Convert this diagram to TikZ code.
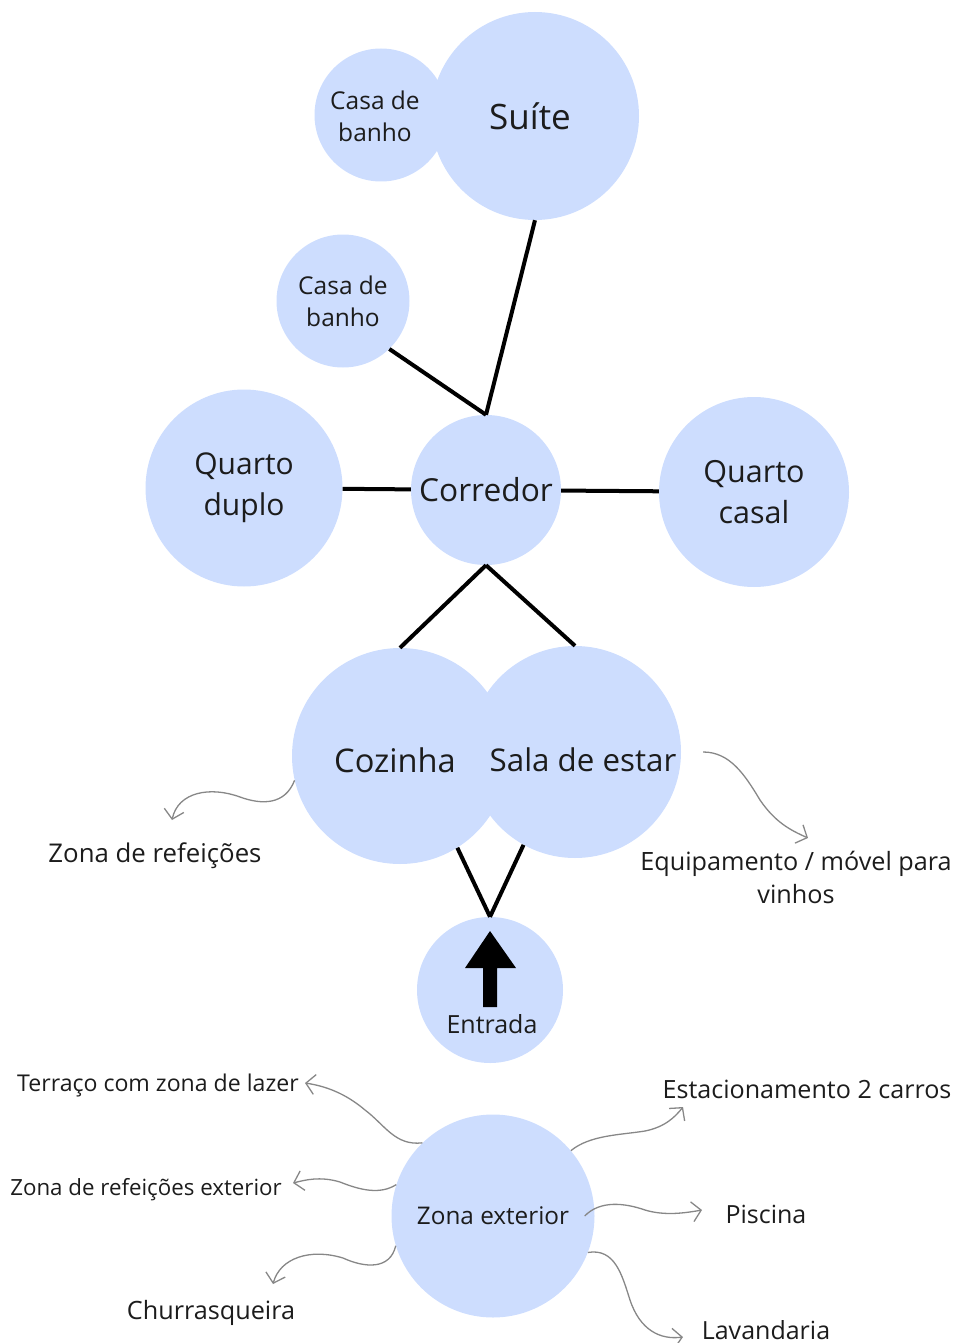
\documentclass[tikz,border=0pt]{standalone}
\usepackage{fontspec}
\setmainfont{Open Sans}
\definecolor{roomfill}{RGB}{205, 221, 254}
\definecolor{inkcol}{RGB}{28, 28, 28}
\definecolor{notecol}{RGB}{135, 135, 135}
\usetikzlibrary{arrows.meta}
\tikzset{
    room/.style={circle, fill=roomfill, inner sep=0pt, align=center,
        text=inkcol},
    bigtext/.style={font=\fontsize{30}{41}\selectfont, text=inkcol,
        align=center},
    smalltext/.style={font=\fontsize{25}{33}\selectfont, text=inkcol,
        align=center},
    wall/.style={line width=4pt, black},
    note/.style={line width=1.3pt, notecol,
        -{Straight Barb[length=9pt, width=20pt, line width=1.3pt]}},
}

\begin{document}
\begin{tikzpicture}[x=1pt, y=-1pt]
    \useasboundingbox (0, 0) rectangle (956, 1343);
    % rooms
    \node[room, minimum size=133] (banhoa) at (381, 115) {};
    \node[room, minimum size=208] (suite) at (535, 116) {};
    \node[room, minimum size=133, smalltext, font=\fontsize{24.5}{32}\selectfont]
        (banhob) at (343, 301) {Casa de\\banho};
    \node[room, minimum size=197, bigtext] (duplo) at (244, 488)
        {Quarto\\duplo};
    \node[room, minimum size=150, bigtext, font=\fontsize{31.7}{41}\selectfont]
        (corredor) at (486, 490) {Corredor};
    \node[room, minimum size=190, bigtext, font=\fontsize{30.5}{41}\selectfont]
        (casal) at (754, 492) {Quarto\\casal};
    \node[room, minimum size=216] (cozinha) at (400, 756) {};
    \node[room, minimum size=212] (sala) at (575, 752) {};
    \node[room, minimum size=146] (entrada) at (490, 990) {};
    \node[room, minimum size=203, smalltext, font=\fontsize{24.3}{33}\selectfont]
        (zext) at (493, 1216) {Zona exterior};

    \node[smalltext, font=\fontsize{24.5}{32}\selectfont] (banhoatxt)
        at (375, 116) {Casa de\\banho};
    \node[bigtext, font=\fontsize{35}{41}\selectfont] (suitetxt)
        at (530, 116) {Su\'{\i}te};
    \node[bigtext, font=\fontsize{32.6}{41}\selectfont] (cozinhatxt)
        at (395, 760) {Cozinha};
    \node[bigtext, font=\fontsize{31.3}{41}\selectfont] (salatxt)
        at (583, 760) {Sala de estar};

    % block arrow of the entrance
    \fill[black] (490, 931) -- (516, 968) -- (497, 968) -- (497, 1007)
        -- (483, 1007) -- (483, 968) -- (465, 968) -- cycle;
    \node[smalltext] (entradatxt) at (492, 1024) {Entrada};

    % links
    \draw[wall] (suite.south) -- (corredor.north);
    \draw[wall] (banhob.-46) -- (corredor.north);
    \draw[wall] (duplo) -- (corredor);
    \draw[wall] (corredor) -- (casal);
    \draw[wall] (corredor.south) -- (cozinha.north);
    \draw[wall] (corredor.south) -- (sala.north);
    \draw[wall] (cozinha.-58) -- (entrada.north);
    \draw[wall] (sala.-119) -- (entrada.north);

    % notes
    \node[smalltext, font=\fontsize{25.8}{33}\selectfont] (refeicoes)
        at (155, 856) {Zona de refei\c{c}\~oes};
    \node[smalltext, font=\fontsize{25.2}{33}\selectfont] (equip)
        at (796, 877) {Equipamento / m\'ovel para\\vinhos};
    \node[smalltext, font=\fontsize{23.1}{33}\selectfont] (terraco)
        at (158, 1085) {Terra\c{c}o com zona de lazer};
    \node[smalltext, font=\fontsize{25.1}{33}\selectfont] (estac)
        at (807, 1089) {Estacionamento 2 carros};
    \node[smalltext, font=\fontsize{22.3}{33}\selectfont] (refext)
        at (146, 1190) {Zona de refei\c{c}\~oes exterior};
    \node[smalltext] (piscina) at (766, 1214) {Piscina};
    \node[smalltext, font=\fontsize{25.2}{33}\selectfont] (churras)
        at (211, 1313) {Churrasqueira};
    \node[smalltext] (lavand) at (766, 1330) {Lavandaria};

    \coordinate (refeicoestip) at (172, 820);
    \coordinate (equiptip) at (808, 838);
    \coordinate (terracotip) at (305, 1083);
    \coordinate (estactip) at (683, 1107);
    \coordinate (refexttip) at (293, 1183);
    \coordinate (piscinatip) at (702, 1210);
    \coordinate (churrastip) at (273, 1284);
    \coordinate (lavandtip) at (683, 1337);

    \draw[note] (cozinha.193) .. controls (285, 805) and (262, 805)
        .. (240, 797) .. controls (210, 786) and (178, 792) .. (refeicoestip);
    \draw[note] ([xshift=22pt]sala.east) .. controls (730, 752) and (745, 775)
        .. (760, 800) .. controls (775, 822) and (790, 830) .. (equiptip);
    \draw[note] (zext.134) .. controls (395, 1146) and (385, 1125)
        .. (365, 1110) .. controls (345, 1093) and (325, 1086) .. (terracotip);
    \draw[note] (zext.40) .. controls (590, 1135) and (620, 1135)
        .. (645, 1131) .. controls (665, 1127) and (675, 1117) .. (estactip);
    \draw[note] (zext.162) .. controls (380, 1195) and (360, 1190)
        .. (340, 1182) .. controls (320, 1176) and (305, 1180) .. (refexttip);
    \draw[note] ([xshift=-10pt]zext.east) .. controls (600, 1200) and (625, 1203)
        .. (645, 1210) .. controls (665, 1216) and (685, 1213) .. (piscinatip);
    \draw[note] (zext.197) .. controls (390, 1270) and (365, 1268)
        .. (343, 1258) .. controls (310, 1248) and (280, 1258) .. (churrastip);
    \draw[note] (zext.-21) .. controls (615, 1248) and (622, 1275)
        .. (630, 1300) .. controls (640, 1330) and (660, 1340) .. (lavandtip);
\end{tikzpicture}
\end{document}
